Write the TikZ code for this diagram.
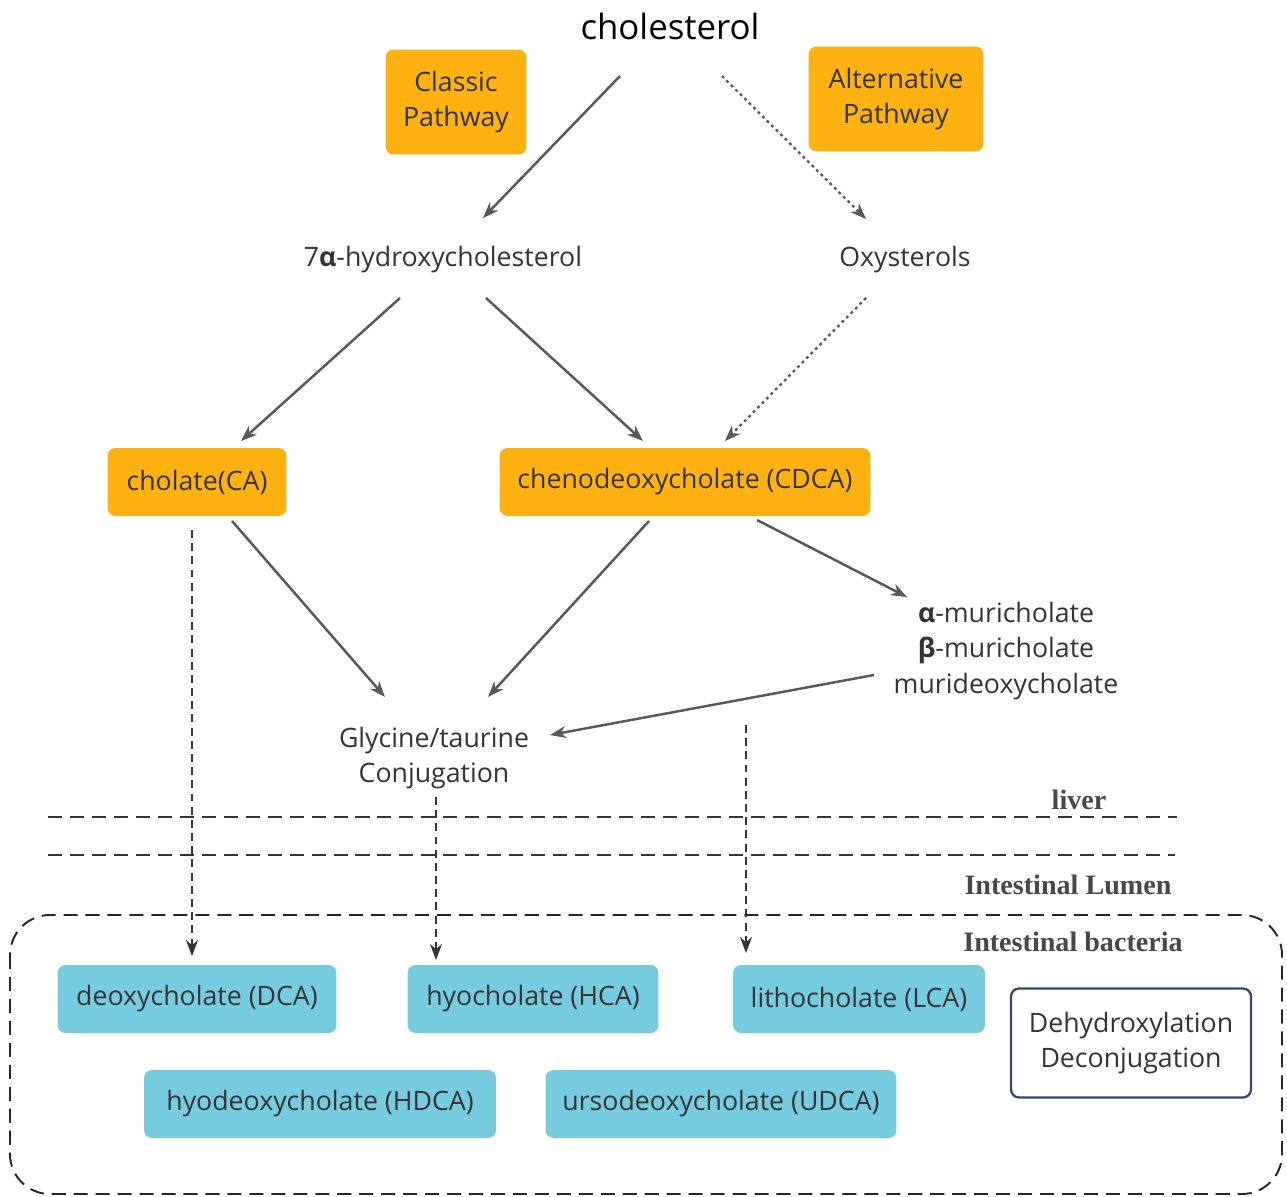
\documentclass[tikz,border=0pt]{standalone}
\usepackage{fontspec}
\setmainfont{Open Sans}
\newfontfamily\regionfont{Liberation Serif}
\usetikzlibrary{arrows.meta,shapes,positioning}
\definecolor{pathway}{RGB}{253,178,17}
\definecolor{bacteria}{RGB}{118,203,222}
\definecolor{ink}{RGB}{52,52,52}
\definecolor{arrowgray}{RGB}{88,88,88}
\definecolor{frame}{RGB}{52,72,112}

\begin{document}
\begin{tikzpicture}[x=0.02cm,y=-0.02cm,
    txt/.style={text=ink,font=\fontsize{15.2}{20.4}\selectfont,align=center,inner sep=0pt},
    orangebox/.style={txt,fill=pathway,rounded corners=0.16cm},
    bluebox/.style={txt,fill=bacteria,rounded corners=0.16cm,minimum height=1.36cm},
    region/.style={text=ink!90,font=\regionfont\bfseries\fontsize{16}{18}\selectfont,inner sep=0pt},
    flow/.style={draw=arrowgray,line width=1.4pt,-{Stealth[length=3.2mm,width=2.4mm]}},
    altflow/.style={flow,line width=1.3pt,dash pattern=on 1.6pt off 2pt},
    gut/.style={draw=ink,line width=0.9pt,dash pattern=on 4.5pt off 3pt,-{Stealth[length=3.2mm,width=2.4mm]}},
    border/.style={draw=black!85,line width=1.1pt,dash pattern=on 8pt off 4.5pt}]
    \useasboundingbox (0,0) rectangle (1287,1196);

    % Liver synthesis
    \node[txt,font=\fontsize{19.8}{22}\selectfont,text=black] (chol) at (670,26) {cholesterol};
    \node[orangebox,minimum width=2.82cm,minimum height=2.1cm] (classic) at (456,102) {Classic\\Pathway};
    \node[orangebox,minimum width=3.5cm,minimum height=2.1cm] (alt) at (896,99) {Alternative\\Pathway};
    \node[txt] (hyd) at (443,260) {7\textbf{α}-hydroxycholesterol};
    \node[txt] (oxy) at (905,260) {Oxysterols};
    \node[orangebox,minimum width=3.58cm,minimum height=1.36cm] (ca) at (197,482) {cholate(CA)};
    \node[orangebox,minimum width=7.42cm,minimum height=1.36cm] (cdca) at (685,482) {chenodeoxycholate (CDCA)};
    \node[txt] (mur) at (1006,651) {\textbf{α}-muricholate\\\textbf{β}-muricholate\\murideoxycholate};
    \node[txt] (gly) at (434,758) {Glycine/taurine\\Conjugation};

    % Arrows
    \draw[flow] ([shift={(-50,50)}]chol.center) -- ([shift={(40,-42)}]hyd.center);
    \draw[altflow] ([shift={(52,50)}]chol.center) -- ([shift={(-39,-41)}]oxy.center);
    \draw[flow] ([shift={(-43,38)}]hyd.center) -- ([shift={(44,-41)}]ca.center);
    \draw[flow] ([shift={(43,38)}]hyd.center) -- ([shift={(-42,-41)}]cdca.center);
    \draw[altflow] ([shift={(-39,38)}]oxy.center) -- ([shift={(40,-41)}]cdca.center);
    \draw[flow] ([shift={(35,39)}]ca.center) -- ([shift={(-49,-61)}]gly.center);
    \draw[flow] ([shift={(-36,39)}]cdca.center) -- ([shift={(54,-61)}]gly.center);
    \draw[flow] ([shift={(72,38)}]cdca.center) -- ([shift={(-99,-54)}]mur.center);
    \draw[flow] ([shift={(-132,24)}]mur.center) -- ([shift={(116,-23)}]gly.center);

    % Compartments
    \node[region] (liver) at (1079,800) {liver};
    \draw[ink,line width=1.5pt,dash pattern=on 8pt off 4.5pt] (48,817) -- (1177,817);
    \draw[ink,line width=1.5pt,dash pattern=on 8pt off 4.5pt] (48,855) -- (1175,855);
    \node[region] (lumen) at (1068,885) {Intestinal Lumen};
    \draw[border,rounded corners=0.8cm] (10,915) rectangle (1282,1194);
    \node[region] (bact) at (1073,942) {Intestinal bacteria};

    % Secondary bile acids
    \node[bluebox,minimum width=5.58cm] (dca) at (197,999) {deoxycholate (DCA)};
    \node[bluebox,minimum width=5.02cm] (hca) at (533,999) {hyocholate (HCA)};
    \node[bluebox,minimum width=5.04cm] (lca) at (859,999) {lithocholate (LCA)};
    \node[bluebox,minimum width=7.04cm] (hdca) at (320,1104) {hyodeoxycholate (HDCA)};
    \node[bluebox,minimum width=7.02cm] (udca) at (721,1104) {ursodeoxycholate (UDCA)};
    \node[txt,draw=frame,line width=1.3pt,fill=white,rounded corners=0.16cm,
          minimum width=4.8cm,minimum height=2.18cm] (dehyd) at (1131,1043) {Dehydroxylation\\Deconjugation};

    % Into the gut
    \draw[gut] ([shift={(-5,48)}]ca.center) -- ([shift={(-5,-43)}]dca.center);
    \draw[gut] ([shift={(2,39)}]gly.center) -- ([shift={(-97,-39)}]hca.center);
    \draw[gut] ([shift={(61,243)}]cdca.center) -- ([shift={(-113,-46)}]lca.center);

\end{tikzpicture}
\end{document}
